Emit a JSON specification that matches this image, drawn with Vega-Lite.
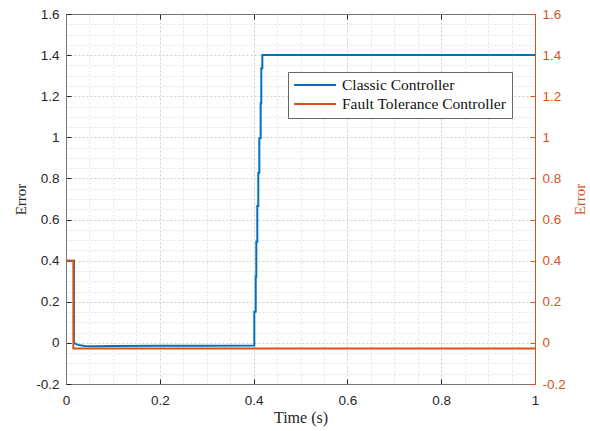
{
  "$schema": "https://vega.github.io/schema/vega-lite/v6.json",
  "width": 469,
  "height": 370,
  "autosize": "none",
  "padding": {"left": 66, "top": 14, "right": 55, "bottom": 47},
  "background": "white",
  "config": {"view": {"stroke": null}},
  "datasets": {
    "classic": [
      {"i": 1, "t": 0, "e": 0.4, "series": "Classic Controller"},
      {"i": 2, "t": 0.017, "e": 0.4, "series": "Classic Controller"},
      {"i": 3, "t": 0.017, "e": 0.0, "series": "Classic Controller"},
      {"i": 4, "t": 0.022, "e": -0.006, "series": "Classic Controller"},
      {"i": 5, "t": 0.03, "e": -0.012, "series": "Classic Controller"},
      {"i": 6, "t": 0.04, "e": -0.015, "series": "Classic Controller"},
      {"i": 7, "t": 0.06, "e": -0.016, "series": "Classic Controller"},
      {"i": 8, "t": 0.1, "e": -0.015, "series": "Classic Controller"},
      {"i": 9, "t": 0.2, "e": -0.014, "series": "Classic Controller"},
      {"i": 10, "t": 0.3, "e": -0.014, "series": "Classic Controller"},
      {"i": 11, "t": 0.4015, "e": -0.013, "series": "Classic Controller"},
      {"i": 12, "t": 0.4015, "e": 0.152, "series": "Classic Controller"},
      {"i": 13, "t": 0.4045, "e": 0.152, "series": "Classic Controller"},
      {"i": 14, "t": 0.4045, "e": 0.322, "series": "Classic Controller"},
      {"i": 15, "t": 0.4058, "e": 0.322, "series": "Classic Controller"},
      {"i": 16, "t": 0.4058, "e": 0.492, "series": "Classic Controller"},
      {"i": 17, "t": 0.4079, "e": 0.492, "series": "Classic Controller"},
      {"i": 18, "t": 0.4079, "e": 0.666, "series": "Classic Controller"},
      {"i": 19, "t": 0.41, "e": 0.666, "series": "Classic Controller"},
      {"i": 20, "t": 0.41, "e": 0.828, "series": "Classic Controller"},
      {"i": 21, "t": 0.4122, "e": 0.828, "series": "Classic Controller"},
      {"i": 22, "t": 0.4122, "e": 0.995, "series": "Classic Controller"},
      {"i": 23, "t": 0.4151, "e": 0.995, "series": "Classic Controller"},
      {"i": 24, "t": 0.4151, "e": 1.166, "series": "Classic Controller"},
      {"i": 25, "t": 0.4164, "e": 1.166, "series": "Classic Controller"},
      {"i": 26, "t": 0.4164, "e": 1.336, "series": "Classic Controller"},
      {"i": 27, "t": 0.4186, "e": 1.336, "series": "Classic Controller"},
      {"i": 28, "t": 0.4186, "e": 1.4, "series": "Classic Controller"},
      {"i": 29, "t": 1, "e": 1.4, "series": "Classic Controller"}
    ],
    "fault": [
      {"i": 1, "t": 0, "e": 0.4, "series": "Fault Tolerance Controller"},
      {"i": 2, "t": 0.0157, "e": 0.4, "series": "Fault Tolerance Controller"},
      {"i": 3, "t": 0.0157, "e": -0.027, "series": "Fault Tolerance Controller"},
      {"i": 4, "t": 1, "e": -0.027, "series": "Fault Tolerance Controller"}
    ]
  },
  "layer": [
    {
      "data": {"name": "classic"},
      "mark": {"type": "line", "strokeWidth": 2, "clip": true},
      "encoding": {
        "x": {
          "field": "t", "type": "quantitative",
          "scale": {"domain": [0, 1], "nice": false, "zero": false},
          "axis": {
            "orient": "bottom",
            "title": "Time (s)",
            "values": [0,0.05,0.1,0.15,0.2,0.25,0.3,0.35,0.4,0.45,0.5,0.55,0.6,0.65,0.7,0.75,0.8,0.85,0.9,0.95,1],
            "labelExpr": "abs(datum.value*5-round(datum.value*5))<1e-6 ? (round(datum.value*10)/10 + '') : ''",
            "labelOverlap": false, "labelFlush": false, "labelBound": false,
            "labelFont": "Liberation Sans", "labelFontSize": 13.5, "labelColor": "#262626",
            "labelPadding": 14,
            "tickSize": -5, "tickColor": "#262626",
            "tickOpacity": {"condition": {"test": "abs(datum.value*5-round(datum.value*5))<1e-6", "value": 1}, "value": 0},
            "domainColor": "#777777",
            "grid": true,
            "gridDash": [2, 2],
            "gridColor": {"condition": {"test": "abs(datum.value*5-round(datum.value*5))<1e-6", "value": "#cfcfcf"}, "value": "#e2e2e2"},
            "titleFont": "Liberation Serif", "titleFontSize": 16, "titleFontWeight": "normal", "titleColor": "#262626",
            "titlePadding": 3
          }
        },
        "y": {
          "field": "e", "type": "quantitative",
          "scale": {"domain": [-0.2, 1.6], "nice": false, "zero": false},
          "axis": {
            "orient": "left",
            "title": "Error",
            "values": [-0.2,-0.15,-0.1,-0.05,0,0.05,0.1,0.15,0.2,0.25,0.3,0.35,0.4,0.45,0.5,0.55,0.6,0.65,0.7,0.75,0.8,0.85,0.9,0.95,1,1.05,1.1,1.15,1.2,1.25,1.3,1.35,1.4,1.45,1.5,1.55,1.6],
            "labelExpr": "abs(datum.value*5-round(datum.value*5))<1e-6 ? (round(datum.value*10)/10 + '') : ''",
            "labelOverlap": false, "labelFlush": false, "labelBound": false,
            "labelFont": "Liberation Sans", "labelFontSize": 13.5, "labelColor": "#262626",
            "labelPadding": 12,
            "tickSize": -5, "tickColor": "#262626",
            "tickOpacity": {"condition": {"test": "abs(datum.value*5-round(datum.value*5))<1e-6", "value": 1}, "value": 0},
            "domainColor": "#777777",
            "grid": true,
            "gridDash": [2, 2],
            "gridColor": {"condition": {"test": "abs(datum.value*5-round(datum.value*5))<1e-6", "value": "#cfcfcf"}, "value": "#e2e2e2"},
            "titleFont": "Liberation Serif", "titleFontSize": 15, "titleFontWeight": "normal", "titleColor": "#262626",
            "titlePadding": 7
          }
        },
        "color": {
          "field": "series", "type": "nominal",
          "scale": {"domain": ["Classic Controller", "Fault Tolerance Controller"], "range": ["#0072BD", "#D95319"]},
          "legend": {
            "title": null,
            "orient": "none",
            "legendX": 222,
            "legendY": 58,
            "fillColor": "white",
            "strokeColor": "#666666",
            "padding": 5,
            "symbolType": "M-1,0H5",
            "symbolSize": 196,
            "symbolStrokeWidth": 2,
            "symbolFillColor": "transparent",
            "labelFont": "Liberation Serif",
            "labelFontSize": 15.5,
            "labelColor": "#111111",
            "labelOffset": 33,
            "labelLimit": 400,
            "rowPadding": 2
          }
        },
        "order": {"field": "i", "type": "quantitative"}
      }
    },
    {
      "data": {"name": "fault"},
      "mark": {"type": "line", "strokeWidth": 2, "clip": true},
      "encoding": {
        "x": {
          "field": "t", "type": "quantitative",
          "scale": {"domain": [0, 1], "nice": false, "zero": false},
          "axis": {
            "orient": "top",
            "title": null,
            "values": [0, 0.2, 0.4, 0.6, 0.8, 1],
            "labels": false,
            "grid": false,
            "tickSize": -5, "tickColor": "#262626",
            "domainColor": "#777777"
          }
        },
        "y": {
          "field": "e", "type": "quantitative",
          "scale": {"domain": [-0.2, 1.6], "nice": false, "zero": false},
          "axis": {
            "orient": "right",
            "title": "Error",
            "titleAngle": 270,
            "titleBaseline": "top",
            "values": [-0.2, 0, 0.2, 0.4, 0.6, 0.8, 1, 1.2, 1.4, 1.6],
            "labelExpr": "round(datum.value*10)/10 + ''",
            "labelOverlap": false, "labelFlush": false, "labelBound": false,
            "labelFont": "Liberation Sans", "labelFontSize": 13.5, "labelColor": "#D95319",
            "labelPadding": 12,
            "grid": false,
            "tickSize": -5, "tickColor": "#D95319",
            "domainColor": "#D95319",
            "titleFont": "Liberation Serif", "titleFontSize": 15, "titleFontWeight": "normal", "titleColor": "#D95319",
            "titlePadding": 7
          }
        },
        "color": {"field": "series", "type": "nominal"},
        "order": {"field": "i", "type": "quantitative"}
      }
    }
  ],
  "resolve": {"scale": {"y": "independent"}, "axis": {"x": "independent"}}
}
